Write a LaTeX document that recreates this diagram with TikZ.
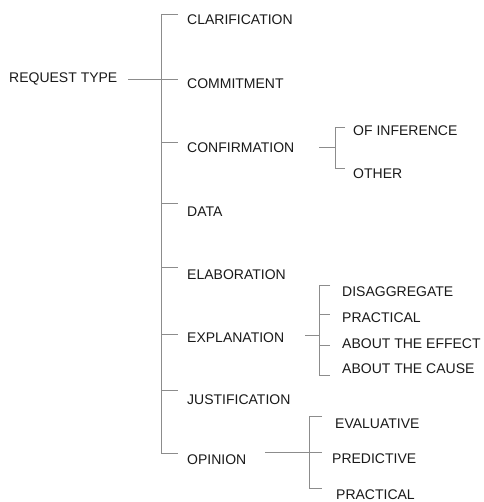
\documentclass[tikz,border=0pt]{standalone}
\usepackage{fontspec}
\setmainfont{Liberation Sans}
\begin{document}
\begin{tikzpicture}[x=1pt,y=-1pt,
  lbl/.style={anchor=base west,inner sep=0pt,font=\fontsize{14}{16}\selectfont,text=black!90},
  br/.style={draw=black!45,line width=0.9pt}]
\useasboundingbox (0,0) rectangle (483,502);
% labels
\node[lbl] (root) at (9,83) {REQUEST TYPE};
\node[lbl] (clar) at (187,25) {CLARIFICATION};
\node[lbl] (comm) at (187,89) {COMMITMENT};
\node[lbl] (conf) at (187,153) {CONFIRMATION};
\node[lbl] (data) at (187,217) {DATA};
\node[lbl] (elab) at (187,279) {ELABORATION};
\node[lbl] (expl) at (187,342) {EXPLANATION};
\node[lbl] (just) at (187,404) {JUSTIFICATION};
\node[lbl] (opin) at (187,464) {OPINION};
\node[lbl] (infer) at (353,136) {OF INFERENCE};
\node[lbl] (other) at (353,179) {OTHER};
\node[lbl] (disag) at (342,296) {DISAGGREGATE};
\node[lbl] (prac1) at (342,322) {PRACTICAL};
\node[lbl] (effect) at (342,348) {ABOUT THE EFFECT};
\node[lbl] (cause) at (342,373) {ABOUT THE CAUSE};
\node[lbl] (eval) at (335,428) {EVALUATIVE};
\node[lbl] (pred) at (332,463) {PREDICTIVE};
\node[lbl] (prac2) at (336,499) {PRACTICAL};
% junction coordinates
\coordinate (r0) at (128,79);
\coordinate (sTop) at (161,14);
\coordinate (sBot) at (161,453);
\coordinate (tClar) at (178,14);
\coordinate (tComm) at (178,79);
\coordinate (tConf) at (178,142);
\coordinate (tData) at (178,203);
\coordinate (tElab) at (178,267);
\coordinate (tExpl) at (178,334);
\coordinate (tJust) at (178,390);
\coordinate (tOpin) at (178,453);
% main bracket
\draw[br] (tClar) -- (sTop) -- (sBot) -- (tOpin);
\draw[br] (r0) -- (tComm);
\foreach \t in {tConf,tData,tElab,tExpl,tJust}
  \draw[br] (sTop |- \t) -- (\t);
% confirmation
\coordinate (c0) at (319,147);
\coordinate (cTop) at (345,127);
\coordinate (cBot) at (345,168);
\draw[br] (c0) -- (335,147);
\draw[br] (cTop) -- (335,127) -- (335,168) -- (cBot);
% explanation
\coordinate (e0) at (305,335);
\coordinate (eA) at (330,285);
\coordinate (eB) at (330,314);
\coordinate (eC) at (330,345);
\coordinate (eD) at (330,375);
\draw[br] (e0) -- (319,335);
\draw[br] (eA) -- (319,285) -- (319,375) -- (eD);
\draw[br] (319,314) -- (eB);
\draw[br] (319,345) -- (eC);
% opinion
\coordinate (o0) at (265,452);
\coordinate (oA) at (322,416);
\coordinate (oB) at (322,452);
\coordinate (oC) at (322,488);
\draw[br] (o0) -- (oB);
\draw[br] (oA) -- (309,416) -- (309,488) -- (oC);
\end{tikzpicture}
\end{document}
